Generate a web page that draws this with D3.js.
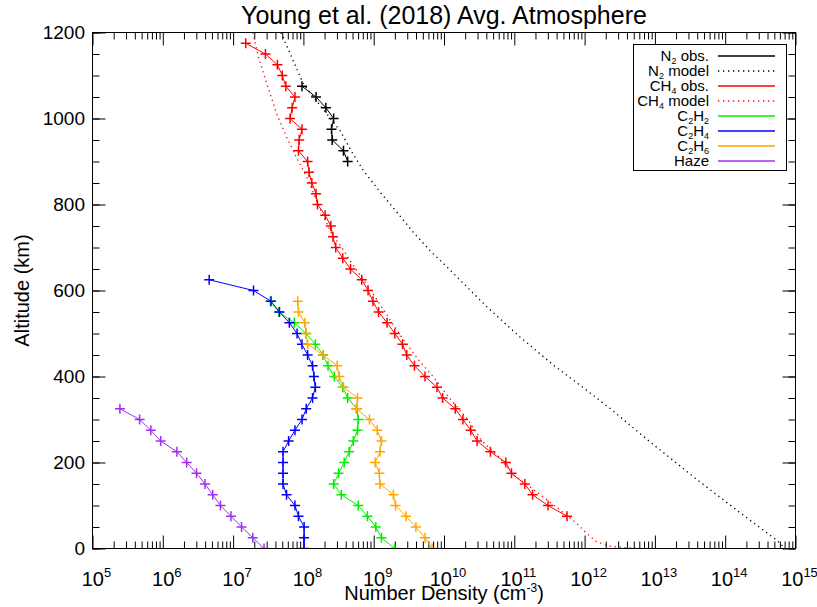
<!DOCTYPE html>
<html>
<head>
<meta charset="utf-8">
<script src="https://cdn.jsdelivr.net/npm/d3@7"></script>
<style>
  body { margin: 0; background: #fff; }
  svg { display: block; font-family: "Liberation Sans", Arial, Helvetica, sans-serif; }
</style>
</head>
<body>
<div id="chart-container"></div>
<script>
// Densities are stored as log10(n / cm^-3), altitudes in km
const n2ObsAlt = [1075, 1050, 1025, 1000, 975, 950, 925, 900];
const n2ObsLog = [7.98, 8.18, 8.32, 8.43, 8.40, 8.41, 8.57, 8.63];

const n2ModelAlt = [1200, 1080, 1030, 972, 922, 880, 829, 782, 736, 693, 655, 616, 562, 492, 426, 368, 326, 248, 155, 66, 20, 0];
const n2ModelLog = [7.68, 8.00, 8.24, 8.52, 8.69, 8.85, 9.09, 9.33, 9.56, 9.80, 10.04, 10.28, 10.61, 11.08, 11.56, 12.03, 12.36, 12.93, 13.64, 14.35, 14.73, 14.85];

const ch4ObsAlt = [1175, 1150, 1125, 1100, 1075, 1050, 1025, 1000, 975, 950, 925, 900, 875, 850, 825, 800,
  775, 750, 725, 700, 675, 650, 625, 600, 575, 550, 525, 500, 475, 450, 425, 400, 375, 350, 325, 300,
  275, 250, 225, 200, 175, 150, 125, 100, 75];
const ch4ObsLog = [7.18, 7.46, 7.63, 7.70, 7.75, 7.88, 7.84, 7.81, 7.98, 7.94, 7.93, 8.06, 8.08, 8.12, 8.18, 8.20,
  8.31, 8.39, 8.42, 8.46, 8.56, 8.67, 8.83, 8.92, 8.99, 9.07, 9.19, 9.30, 9.41, 9.47, 9.58, 9.73, 9.90, 9.98, 10.16, 10.27,
  10.38, 10.47, 10.66, 10.88, 10.96, 11.15, 11.26, 11.48, 11.75];

const ch4ModelAlt = [1200, 1143, 1081, 1011, 957, 910, 879, 856, 800, 733, 694, 670, 600, 500, 434, 399, 353, 300, 250, 210, 171, 140, 120, 74, 58, 35, 16, 6, 2, 0];
const ch4ModelLog = [7.28, 7.36, 7.48, 7.62, 7.76, 7.90, 8.00, 8.07, 8.21, 8.40, 8.57, 8.66, 8.96, 9.36, 9.66, 9.85, 10.06, 10.34, 10.54, 10.80, 10.99, 11.25, 11.41, 11.77, 11.89, 12.03, 12.17, 12.33, 12.56, 12.80];

const c2h2Alt = [575, 550, 525, 500, 475, 450, 425, 400, 375, 350, 325, 300, 275, 250, 225, 200, 175, 150, 125, 100, 75, 50, 25, 0];
const c2h2Log = [7.53, 7.65, 7.87, 8.04, 8.17, 8.28, 8.35, 8.44, 8.56, 8.63, 8.76, 8.78, 8.77, 8.71, 8.65, 8.58, 8.50, 8.43, 8.54, 8.78, 8.91, 9.03, 9.11, 9.30];

const c2h4Alt = [625, 600, 575, 550, 525, 500, 475, 450, 425, 400, 375, 350, 325, 300, 275, 250, 225, 200, 175, 150, 125, 100, 75, 50, 25, 0];
const c2h4Log = [6.66, 7.29, 7.54, 7.66, 7.80, 7.91, 7.98, 8.06, 8.13, 8.15, 8.17, 8.13, 8.04, 7.98, 7.88, 7.79, 7.71, 7.71, 7.71, 7.71, 7.76, 7.88, 7.93, 8.01, 8.01, 8.01];

const c2h6Alt = [575, 550, 525, 500, 475, 450, 425, 400, 375, 350, 325, 300, 275, 250, 225, 200, 175, 150, 125, 100, 75, 50, 25, 0];
const c2h6Log = [7.92, 7.93, 8.02, 8.04, 8.06, 8.28, 8.48, 8.51, 8.57, 8.77, 8.75, 8.94, 9.05, 9.11, 9.09, 9.02, 9.08, 9.09, 9.28, 9.31, 9.46, 9.60, 9.73, 9.83];

const hazeAlt = [325, 300, 275, 250, 225, 200, 175, 150, 125, 100, 75, 50, 25, 0];
const hazeLog = [5.39, 5.67, 5.83, 5.97, 6.20, 6.34, 6.48, 6.60, 6.71, 6.82, 6.97, 7.12, 7.28, 7.44];

const xExponents = [5, 6, 7, 8, 9, 10, 11, 12, 13, 14, 15];
const yTicksMajor = [0, 200, 400, 600, 800, 1000, 1200];
const yTicksMinor = d3.range(0, 1201, 50);

const series = [
  { label: ["N", "2", " obs."], alt: n2ObsAlt, log: n2ObsLog, color: "#000000", dotted: false, marks: true },
  { label: ["N", "2", " model"], alt: n2ModelAlt, log: n2ModelLog, color: "#000000", dotted: true, marks: false },
  { label: ["CH", "4", " obs."], alt: ch4ObsAlt, log: ch4ObsLog, color: "#ff0000", dotted: false, marks: true },
  { label: ["CH", "4", " model"], alt: ch4ModelAlt, log: ch4ModelLog, color: "#ff0000", dotted: true, marks: false },
  { label: ["C", "2", "H", "2"], alt: c2h2Alt, log: c2h2Log, color: "#00ee00", dotted: false, marks: true },
  { label: ["C", "2", "H", "4"], alt: c2h4Alt, log: c2h4Log, color: "#0000ff", dotted: false, marks: true },
  { label: ["C", "2", "H", "6"], alt: c2h6Alt, log: c2h6Log, color: "#ffa500", dotted: false, marks: true },
  { label: ["Haze"], alt: hazeAlt, log: hazeLog, color: "#a030f0", dotted: false, marks: true }
];

const width = 817, height = 607;

const x = d3.scaleLog().domain([1e5, 1e15]).range([92.5, 795.5]);
const y = d3.scaleLinear().domain([0, 1200]).range([548.5, 32.5]);

const svg = d3.select("#chart-container").append("svg")
    .attr("width", width)
    .attr("height", height)
    .attr("viewBox", `0 0 ${width} ${height}`);

svg.append("defs").append("clipPath").attr("id", "plot-clip")
  .append("rect")
    .attr("x", x(1e5)).attr("y", y(1200))
    .attr("width", x(1e15) - x(1e5)).attr("height", y(0) - y(1200));

// Axes: IDL style, ticks pointing inward on all four sides
const decades = xExponents.map(e => Math.pow(10, e));
const minorX = [];
xExponents.slice(0, -1).forEach(e => d3.range(2, 10).forEach(m => minorX.push(m * Math.pow(10, e))));

function styleAxis(g) {
  g.select(".domain").remove();
  g.selectAll(".tick line").attr("stroke", "#000").attr("stroke-width", 1);
  g.selectAll(".tick text").remove();
}

svg.append("g").attr("transform", `translate(0,${y(0)})`)
    .call(d3.axisBottom(x).tickValues(decades).tickSize(-13)).call(styleAxis);
svg.append("g").attr("transform", `translate(0,${y(0)})`)
    .call(d3.axisBottom(x).tickValues(minorX).tickSize(-7)).call(styleAxis);
svg.append("g").attr("transform", `translate(0,${y(1200)})`)
    .call(d3.axisTop(x).tickValues(decades).tickSize(-13)).call(styleAxis);
svg.append("g").attr("transform", `translate(0,${y(1200)})`)
    .call(d3.axisTop(x).tickValues(minorX).tickSize(-7)).call(styleAxis);

svg.append("g").attr("transform", `translate(${x(1e5)},0)`)
    .call(d3.axisLeft(y).tickValues(yTicksMajor).tickSize(-13)).call(styleAxis);
svg.append("g").attr("transform", `translate(${x(1e5)},0)`)
    .call(d3.axisLeft(y).tickValues(yTicksMinor).tickSize(-7)).call(styleAxis);
svg.append("g").attr("transform", `translate(${x(1e15)},0)`)
    .call(d3.axisRight(y).tickValues(yTicksMajor).tickSize(-13)).call(styleAxis);
svg.append("g").attr("transform", `translate(${x(1e15)},0)`)
    .call(d3.axisRight(y).tickValues(yTicksMinor).tickSize(-7)).call(styleAxis);

// Tick labels
const xLab = svg.append("g").attr("font-size", 20).attr("text-anchor", "middle")
  .selectAll("text").data(xExponents).join("text")
    .attr("x", d => x(Math.pow(10, d)) + 4)
    .attr("y", 586);
xLab.append("tspan").text("10");
xLab.append("tspan").attr("font-size", 13).attr("dy", -9).text(d => d);

svg.append("g").attr("font-size", 19).attr("text-anchor", "end")
  .selectAll("text").data(yTicksMajor).join("text")
    .attr("x", 85)
    .attr("y", d => y(d))
    .attr("dy", "0.36em")
    .text(d => d);

// Titles
svg.append("text")
    .attr("x", 444).attr("y", 24)
    .attr("text-anchor", "middle")
    .attr("font-size", 25)
    .text("Young et al. (2018) Avg. Atmosphere");

const xt = svg.append("text")
    .attr("x", 444).attr("y", 600)
    .attr("text-anchor", "middle")
    .attr("font-size", 20);
xt.append("tspan").text("Number Density (cm");
xt.append("tspan").attr("font-size", 12).attr("dy", -8).text("-3");
xt.append("tspan").attr("dy", 8).text(")");

svg.append("text")
    .attr("transform", `translate(29,${(y(0) + y(1200)) / 2}) rotate(-90)`)
    .attr("text-anchor", "middle")
    .attr("font-size", 20)
    .text("Altitude (km)");

// Data
const plot = svg.append("g").attr("clip-path", "url(#plot-clip)");
const line = d3.line().x(d => x(Math.pow(10, d[1]))).y(d => y(d[0]));

series.forEach(s => {
  const pts = s.alt.map((a, i) => [a, s.log[i]]);
  plot.append("path")
      .datum(pts)
      .attr("fill", "none")
      .attr("stroke", s.color)
      .attr("stroke-width", s.dotted ? 1.3 : 1)
      .attr("stroke-dasharray", s.dotted ? "1.3,3.7" : null)
      .attr("d", line);
  if (s.marks) {
    plot.append("g")
      .selectAll("path")
      .data(pts)
      .join("path")
        .attr("transform", d => `translate(${x(Math.pow(10, d[1]))},${y(d[0])})`)
        .attr("d", "M-5,0H5M0,-5V5")
        .attr("stroke", s.color)
        .attr("stroke-width", 1.5);
  }
});

// Frame
svg.append("rect")
    .attr("x", x(1e5)).attr("y", y(1200))
    .attr("width", x(1e15) - x(1e5)).attr("height", y(0) - y(1200))
    .attr("fill", "none").attr("stroke", "#000");

// Legend
const legend = svg.append("g");
legend.append("rect")
    .attr("x", 633.5).attr("y", 44.5)
    .attr("width", 153).attr("height", 126)
    .attr("fill", "#fff").attr("stroke", "#000");

const rows = legend.selectAll("g.row").data(series).join("g")
    .attr("class", "row")
    .attr("transform", (d, i) => `translate(0,${56 + i * 15})`);

rows.append("line")
    .attr("x1", 718).attr("x2", 775)
    .attr("stroke", d => d.color)
    .attr("stroke-width", 1.3)
    .attr("stroke-dasharray", d => d.dotted ? "1.3,3.7" : null);

rows.append("text")
    .attr("x", 709).attr("y", 5)
    .attr("text-anchor", "end")
    .attr("font-size", 15)
    .each(function(d) {
      const t = d3.select(this);
      d.label.forEach((part, i) => {
        const isSub = /^\d$/.test(part);
        const prevSub = i > 0 && /^\d$/.test(d.label[i - 1]);
        const sp = t.append("tspan").text(part);
        if (isSub) sp.attr("font-size", 9).attr("dy", 3);
        else if (prevSub) sp.attr("dy", -3);
      });
    });
</script>
</body>
</html>
